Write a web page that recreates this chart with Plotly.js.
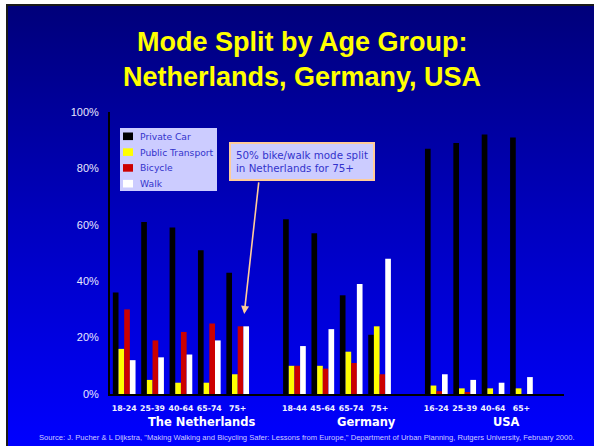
<!DOCTYPE html>
<html>
<head>
<meta charset="utf-8">
<script src="https://cdn.plot.ly/plotly-3.0.1.min.js"></script>
<style>
  html, body { margin: 0; padding: 0; background: #ffffff; }
  #slide { position: absolute; left: 6px; top: 4px; width: 588px; height: 442px;
           box-sizing: border-box; border-left: 2px solid #1a1a1a; border-top: 2px solid #1a1a1a;
           background: linear-gradient(to bottom, #00007a 0%, #0000c0 50%, #0000ff 100%); }
  #chart { position: absolute; left: 0; top: 0; width: 594px; height: 446px; }
</style>
</head>
<body>
<div id="slide"></div>
<div id="chart"></div>
<script>
// ---- data ----
const countries = ['The Netherlands', 'Germany', 'USA'];
const groupSizes = [5, 4, 4];
const ageLabels = ['18-24', '25-39', '40-64', '65-74', '75+',
                   '18-44', '45-64', '65-74', '75+',
                   '16-24', '25-39', '40-64', '65+'];
const seriesNames = ['Private Car', 'Public Transport', 'Bicycle', 'Walk'];
const privateCar      = [36, 61, 59, 51, 43, 62, 57, 35, 21, 87, 89, 92, 91];
const publicTransport = [16, 5, 4, 4, 7, 10, 10, 15, 24, 3, 2, 2, 2];
const bicycle         = [30, 19, 22, 25, 24, 10, 9, 11, 7, 1, 0.7, 0, 0];
const walk            = [12, 13, 14, 19, 24, 17, 23, 39, 48, 7, 5, 4, 6];
const yTicks = [0, 20, 40, 60, 80, 100];
const yTickLabels = ['0%', '20%', '40%', '60%', '80%', '100%'];
const titleLines = ['Mode Split by Age Group:', 'Netherlands, Germany, USA'];
const calloutText = '50% bike/walk mode split<br>in Netherlands for 75+';
const sourceText = 'Source: J. Pucher &amp; L Dijkstra, "Making Walking and Bicycling Safer: Lessons from Europe," Department of Urban Planning, Rutgers University, February 2000.';

// ---- layout helpers ----
const W = 594, H = 446, ML = 110, MR = 30, MT = 112, MB = 52;
const PW = W - ML - MR, PH = H - MT - MB;
const px2x = p => (p - ML) / PW;
const py2y = p => (H - MB - p) / PH;

// x slots: one empty slot between countries
const xPos = [];
let slot = 0;
groupSizes.forEach((n) => {
  for (let i = 0; i < n; i++) { xPos.push(slot); slot++; }
  slot++;
});
const nSlots = slot - 1;

const colors = ['#000000', '#ffff00', '#cc0000', '#ffffff'];
const seriesValues = [privateCar, publicTransport, bicycle, walk];

const traces = seriesNames.map((name, i) => ({
  type: 'bar', name: name, x: xPos, y: seriesValues[i],
  marker: { color: colors[i], line: { width: 0 } },
  showlegend: false, hoverinfo: 'x+y+name'
}));

const shapes = [];
const annotations = [];

// manual legend
shapes.push({ type: 'rect', xref: 'paper', yref: 'paper',
  x0: px2x(120), x1: px2x(217), y0: py2y(191), y1: py2y(128),
  fillcolor: '#ccccff', line: { width: 0 }, layer: 'above' });
seriesNames.forEach((name, i) => {
  const cy = 136.3 + i * 15.8;
  shapes.push({ type: 'rect', xref: 'paper', yref: 'paper',
    x0: px2x(123), x1: px2x(133), y0: py2y(cy + 3.8), y1: py2y(cy - 3.8),
    fillcolor: colors[i], line: { width: 0 }, layer: 'above' });
  annotations.push({ xref: 'paper', yref: 'paper', x: px2x(138), y: py2y(cy),
    xanchor: 'left', yanchor: 'middle', showarrow: false, text: name,
    font: { family: 'DejaVu Sans', size: 9.2, color: '#3333cc' } });
});

// title
titleLines.forEach((t, i) => {
  annotations.push({ xref: 'paper', yref: 'paper', x: px2x(302), y: py2y(41.5 + i * 35),
    xanchor: 'center', yanchor: 'middle', showarrow: false, text: '<b>' + t + '</b>',
    font: { family: 'Liberation Sans, Arial', size: 27, color: '#ffff00' } });
});

// country group labels
const groupLabelX = [201.7, 366.7, 506];
countries.forEach((c, i) => {
  annotations.push({ xref: 'paper', yref: 'paper', x: px2x(groupLabelX[i]), y: py2y(421.5),
    xanchor: 'center', yanchor: 'middle', showarrow: false, text: '<b>' + c + '</b>',
    font: { family: 'DejaVu Sans', size: 11.5, color: '#ffffff' } });
});

// callout box
annotations.push({ xref: 'paper', yref: 'paper', x: px2x(302), y: py2y(161.7),
  xanchor: 'center', yanchor: 'middle', showarrow: false, text: calloutText, align: 'left',
  bgcolor: '#ccccff', bordercolor: '#ffcc99', borderwidth: 2, borderpad: 5,
  font: { family: 'DejaVu Sans', size: 10.3, color: '#3333cc' } });
// callout arrow pointing at the 75+ Netherlands walk bar
annotations.push({ xref: 'x', yref: 'y', x: xPos[4] + 0.23, y: 28.4, text: '',
  showarrow: true, ax: 14.7, ay: -133, arrowhead: 2, arrowsize: 1, arrowwidth: 1.6,
  arrowcolor: '#ffcc99', standoff: 0 });

// source
annotations.push({ xref: 'paper', yref: 'paper', x: px2x(307), y: py2y(437.5),
  xanchor: 'center', yanchor: 'middle', showarrow: false, text: sourceText,
  font: { family: 'Liberation Sans, Arial', size: 7.6, color: '#ccccff' } });

const layout = {
  width: W, height: H, autosize: false,
  margin: { l: ML, r: MR, t: MT, b: MB, pad: 0 },
  paper_bgcolor: 'rgba(0,0,0,0)', plot_bgcolor: 'rgba(0,0,0,0)',
  barmode: 'group', bargap: 0.2, bargroupgap: 0,
  showlegend: false,
  xaxis: {
    range: [-0.5, nSlots + 0.5], tickmode: 'array', tickvals: xPos, ticktext: ageLabels,
    tickangle: 0,
    showgrid: false, zeroline: false, showline: true, linecolor: '#000000', linewidth: 2,
    ticks: '', ticklabelstandoff: 6,
    tickfont: { family: 'DejaVu Sans', size: 7.8, color: '#f4f4ff', weight: 'bold' }
  },
  yaxis: {
    range: [0, 100], tickmode: 'array', tickvals: yTicks, ticktext: yTickLabels,
    showgrid: false, zeroline: false, showline: true, linecolor: '#000000', linewidth: 2,
    ticks: '', ticklabelstandoff: 7,
    tickfont: { family: 'Liberation Sans, Arial', size: 11, color: '#e8e8ff' }
  },
  shapes: shapes,
  annotations: annotations
};

Plotly.newPlot('chart', traces, layout, { displayModeBar: false, staticPlot: true });
</script>
</body>
</html>
